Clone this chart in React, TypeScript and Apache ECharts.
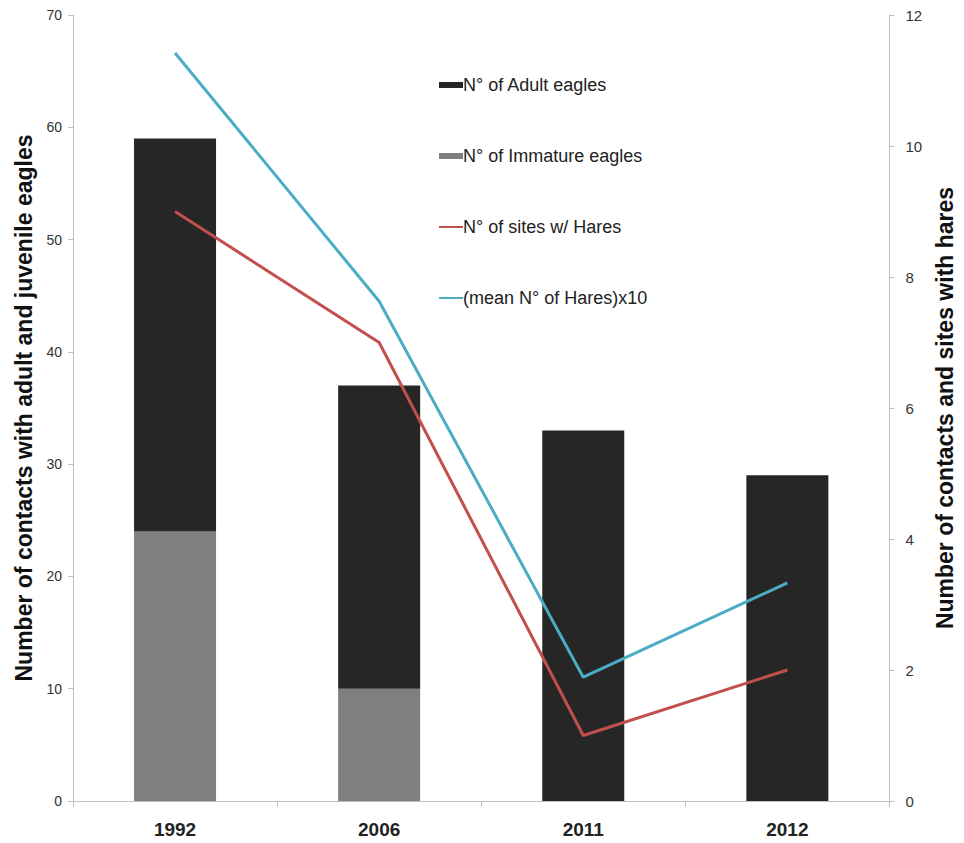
import React, { useEffect, useRef } from "react";
import * as echarts from "echarts";

const years = ["1992", "2006", "2011", "2012"];
const immatureEagles = [24, 10, 0, 0];
const adultEagles = [35, 27, 33, 29];
const sitesWithHares = [9, 7, 1, 2];
const meanHaresX10 = [11.42, 7.63, 1.89, 3.33];

const leftTicks = { min: 0, max: 70, interval: 10 };
const rightTicks = { min: 0, max: 12, interval: 2 };

export default function App() {
  const ref = useRef<HTMLDivElement>(null);
  useEffect(() => {
    document.body.style.margin = "0";
    document.body.style.overflow = "hidden";
    if (!ref.current) return;
    const chart = echarts.init(ref.current, null, { renderer: "svg" });
    const axisLineStyle = { color: "#bfbfbf", width: 1 };
    chart.setOption({
      animation: false,
      textStyle: { fontFamily: "Liberation Sans, Arial, sans-serif" },
      grid: { left: 73, right: 68, top: 15, bottom: 42 },
      legend: {
        orient: "vertical",
        left: 438,
        top: 76,
        padding: 0,
        itemGap: 53,
        itemWidth: 24,
        itemHeight: 6,
        textStyle: { fontSize: 18, color: "#222", padding: [0, 0, 0, -5] },
        data: [
          { name: "N° of Adult eagles", icon: "rect" },
          { name: "N° of Immature eagles", icon: "rect" },
          { name: "N° of sites w/ Hares", itemStyle: { opacity: 0 } },
          { name: "(mean N° of Hares)x10", itemStyle: { opacity: 0 } },
        ],
      },
      xAxis: {
        type: "category",
        data: years,
        axisLine: { lineStyle: axisLineStyle },
        axisTick: { show: true, length: 6, lineStyle: axisLineStyle },
        axisLabel: { fontSize: 19, fontWeight: "bold", color: "#222", margin: 19 },
      },
      yAxis: [
        {
          type: "value",
          ...leftTicks,
          position: "left",
          name: "Number of contacts with adult and juvenile eagles",
          nameLocation: "middle",
          nameGap: 37,
          nameTextStyle: { fontSize: 23, fontWeight: "bold", color: "#111" },
          axisLine: { show: true, lineStyle: axisLineStyle },
          axisTick: { show: true, length: 5, lineStyle: axisLineStyle },
          axisLabel: { fontSize: 14, color: "#333", margin: 11 },
          splitLine: { show: false },
        },
        {
          type: "value",
          ...rightTicks,
          position: "right",
          name: "Number of contacts and sites with hares",
          nameLocation: "middle",
          nameGap: 39,
          nameRotate: 90,
          nameTextStyle: { fontSize: 23, fontWeight: "bold", color: "#111" },
          axisLine: { show: true, lineStyle: axisLineStyle },
          axisTick: { show: true, length: 5, lineStyle: axisLineStyle },
          axisLabel: { fontSize: 15, color: "#333", margin: 16 },
          splitLine: { show: false },
        },
      ],
      series: [
        {
          name: "N° of Immature eagles",
          type: "bar",
          stack: "eagles",
          barWidth: 82,
          itemStyle: { color: "#7f7f7f" },
          data: immatureEagles,
        },
        {
          name: "N° of Adult eagles",
          type: "bar",
          stack: "eagles",
          barWidth: 82,
          itemStyle: { color: "#262626" },
          data: adultEagles,
        },
        {
          name: "N° of sites w/ Hares",
          type: "line",
          yAxisIndex: 1,
          symbol: "none",
          lineStyle: { color: "#c0504d", width: 3 },
          itemStyle: { color: "#c0504d" },
          data: sitesWithHares,
        },
        {
          name: "(mean N° of Hares)x10",
          type: "line",
          yAxisIndex: 1,
          symbol: "none",
          lineStyle: { color: "#4bacc6", width: 3 },
          itemStyle: { color: "#4bacc6" },
          data: meanHaresX10,
        },
      ],
    });
    return () => chart.dispose();
  }, []);
  return <div ref={ref} style={{ width: "100vw", height: "100vh" }} />;
}
